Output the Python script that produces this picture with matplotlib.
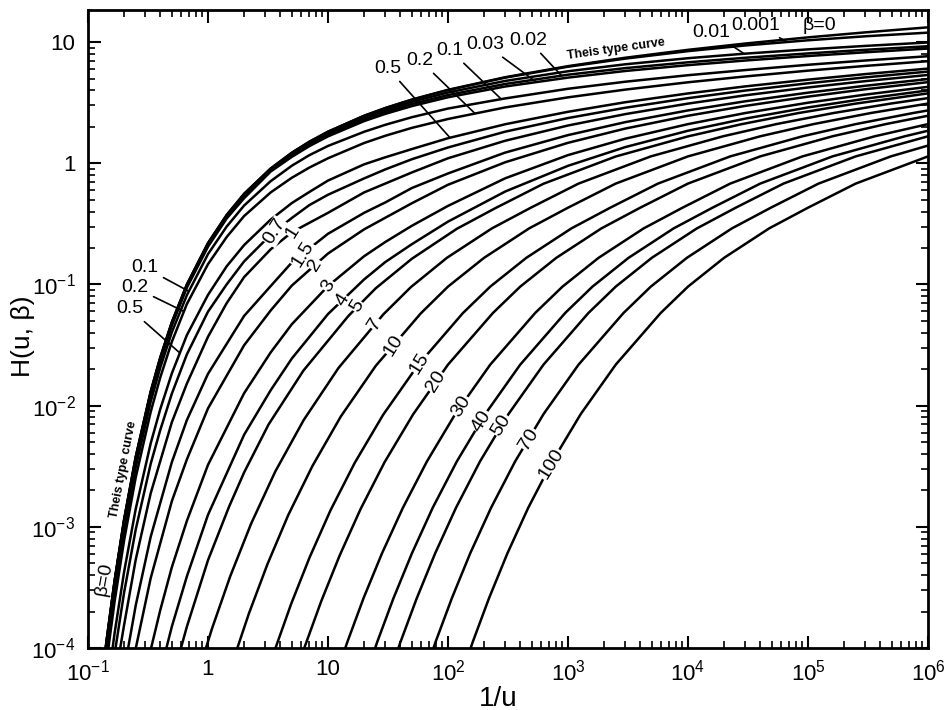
import numpy as np
import matplotlib
matplotlib.use('Agg')
import matplotlib.pyplot as plt

plt.rcParams['font.family'] = ['Liberation Sans', 'DejaVu Sans']

# values of 1/u shared by the small beta curves
x_small = [0.1333, 0.1429, 0.1667, 0.2, 0.25, 0.333, 0.4, 0.5, 0.667, 1, 1.43, 2, 3.33, 5, 7, 10, 20, 30,
           50, 100, 300, 1e3, 3e3, 1e4, 3e4, 1e5, 3e5, 1e6]

# H(u, beta)
h_b0 = [6.6e-5, 1.155e-4, 3.60e-4, 1.148e-3, 3.78e-3, 0.01305, 0.02491, 0.0489, 0.100, 0.2194, 0.374, 0.560,
        0.906, 1.223, 1.507, 1.823, 2.468, 2.857, 3.355, 4.038, 5.131, 6.332, 7.429, 8.633, 9.732, 10.94,
        12.03, 13.24]
h_b0001 = [6.6e-5, 1.153e-4, 3.59e-4, 1.146e-3, 3.77e-3, 0.01303, 0.02486, 0.0488, 0.0998, 0.2190, 0.373,
           0.559, 0.904, 1.221, 1.504, 1.820, 2.463, 2.851, 3.346, 4.016, 5.092, 6.263, 7.309, 8.423, 9.382,
           10.35, 11.17, 11.97]
h_b001 = [6.5e-5, 1.13e-4, 3.53e-4, 1.125e-3, 3.70e-3, 0.0128, 0.02441, 0.0480, 0.0982, 0.2155, 0.366, 0.551,
          0.889, 1.205, 1.478, 1.769, 2.384, 2.749, 3.214, 3.838, 4.781, 5.747, 6.559, 7.363, 8.03, 8.71,
          9.30, 9.93]
h_b002 = [6.3e-5, 1.11e-4, 3.46e-4, 1.103e-3, 3.63e-3, 0.01255, 0.02394, 0.0471, 0.0963, 0.211, 0.358, 0.537,
          0.872, 1.17, 1.44, 1.717, 2.303, 2.65, 3.085, 3.658, 4.514, 5.382, 6.099, 6.813, 7.427, 8.066,
          8.635, 9.248]
h_b003 = [6.2e-5, 1.088e-4, 3.39e-4, 1.081e-3, 3.56e-3, 0.0123, 0.02347, 0.0461, 0.0943, 0.205, 0.350, 0.515,
          0.855, 1.13, 1.386, 1.667, 2.229, 2.557, 2.964, 3.506, 4.303, 5.092, 5.777, 6.453, 7.047, 7.675,
          8.24, 8.848]
h_b01 = [5.4e-5, 9.47e-5, 2.95e-4, 9.41e-4, 3.10e-3, 0.01077, 0.02055, 0.0404, 0.0816, 0.178, 0.300, 0.448,
         0.712, 0.955, 1.167, 1.39, 1.82, 2.077, 2.40, 2.83, 3.43, 4.12, 4.71, 5.33, 5.88, 6.50, 7.05, 7.65]
h_b02 = [4.4e-5, 7.76e-5, 2.42e-4, 7.75e-4, 2.56e-3, 8.87e-3, 0.01706, 0.0337, 0.069, 0.147, 0.246, 0.367,
         0.575, 0.76, 0.922, 1.10, 1.47, 1.686, 1.96, 2.32, 2.89, 3.50, 4.055, 4.66, 5.207, 5.813, 6.36, 6.958]
h_b05 = [2.4e-5, 4.25e-5, 1.33e-4, 4.25e-4, 1.406e-3, 4.88e-3, 9.34e-3, 0.01848, 0.0382, 0.082, 0.141, 0.2114,
         0.343, 0.47, 0.58, 0.72, 0.98, 1.12, 1.31, 1.61, 2.10, 2.66, 3.19, 3.77, 4.31, 4.90, 5.445, 6.045]
h_b07 = [1.6e-5, 2.85e-5, 8.93e-5, 2.87e-4, 9.52e-4, 3.31e-3, 6.28e-3, 0.01257, 0.0265, 0.0596, 0.100, 0.155,
         0.257, 0.354, 0.452, 0.55, 0.75, 0.89, 1.08, 1.35, 1.824, 2.362, 2.872, 3.447, 3.982, 4.572, 5.114,
         5.711]

x_b1 = [0.1667, 0.182, 0.2, 0.25, 0.333, 0.5, 0.667, 1, 1.43, 2, 3.33, 5, 10, 20, 50, 100, 300, 1e3, 3e3,
        1e4, 3e4, 1e5, 3e5, 1e6]
h_b1 = [4.97e-5, 8.9e-5, 1.55e-4, 5.37e-4, 1.89e-3, 7.3e-3, 0.0152, 0.037, 0.070, 0.115, 0.195, 0.27, 0.39,
        0.575, 0.84, 1.10, 1.535, 2.05, 2.545, 3.108, 3.637, 4.223, 4.762, 5.358]

x_b15 = [0.182, 0.2, 0.25, 0.333, 0.5, 0.667, 1, 2, 3.33, 5, 10, 20, 30, 50, 100, 300, 1e3, 3e3, 1e4, 3e4,
         1e5, 3e5, 1e6]
h_b15 = [3.6e-5, 6.5e-5, 2.25e-4, 8.27e-4, 3.42e-3, 7.6e-3, 0.0183, 0.055, 0.097, 0.152, 0.262, 0.39, 0.475,
         0.625, 0.824, 1.226, 1.708, 2.185, 2.731, 3.248, 3.826, 4.362, 4.955]

x_b2 = [0.222, 0.25, 0.333, 0.5, 0.667, 1, 2, 3.33, 5, 10, 20, 30, 50, 100, 300, 1e3, 3e3, 1e4, 3e4, 1e5,
        3e5, 1e6]
h_b2 = [5.4e-5, 9.92e-5, 3.77e-4, 1.63e-3, 3.6e-3, 9.49e-3, 0.0315, 0.061, 0.098, 0.18, 0.285, 0.355, 0.468,
        0.665, 1.02, 1.475, 1.934, 2.467, 2.975, 3.548, 4.082, 4.673]

x_b3 = [0.2857, 0.333, 0.4, 0.5, 0.667, 1, 2, 3.33, 5, 10, 20, 30, 50, 100, 300, 1e3, 3e3, 1e4, 3e4, 1e5,
        3e5, 1e6]
h_b3 = [4.69e-5, 9.66e-5, 2.05e-4, 4.65e-4, 1.12e-3, 3.245e-3, 0.01266, 0.0275, 0.047, 0.097, 0.171, 0.224,
        0.305, 0.445, 0.752, 1.168, 1.595, 2.105, 2.598, 3.161, 3.687, 4.274]

x_b4 = [0.333, 0.4, 0.5, 0.667, 1, 2, 3.33, 5, 10, 20, 30, 50, 100, 300, 1e3, 3e3, 1e4, 3e4, 1e5, 3e5, 1e6]
h_b4 = [2.76e-5, 6.3e-5, 1.504e-4, 3.9e-4, 1.256e-3, 5.75e-3, 0.0134, 0.0245, 0.057, 0.11, 0.153, 0.215,
        0.33, 0.585, 0.953, 1.36, 1.856, 2.337, 2.89, 3.411, 3.992]

x_b5 = [0.5, 0.667, 1, 1.5, 2, 3.2, 6.25, 14.8, 25, 50, 118.5, 250, 625, 2500, 1e4, 2.78e4, 8.33e4, 2.5e5, 1e6]
h_b5 = [5.36e-5, 1.5e-4, 5.3e-4, 1.47e-3, 2.81e-3, 7.0e-3, 0.0195, 0.055, 0.093, 0.163, 0.288, 0.428, 0.678,
        1.138, 1.667, 2.10, 2.598, 3.109, 3.775]

x_b7 = [0.589, 0.784, 1.076, 1.531, 2.286, 3.63, 6.27, 12.25, 29, 49, 98, 232, 490, 1225, 4900, 1.96e4,
        5.44e4, 1.63e5, 4.9e5, 1e6]
h_b7 = [1.8e-5, 5.2e-5, 1.43e-4, 3.9e-4, 1.06e-3, 2.85e-3, 7.6e-3, 0.0205, 0.0568, 0.095, 0.166, 0.29, 0.43,
        0.68, 1.14, 1.67, 2.105, 2.598, 3.111, 3.45]

x_b10 = [1.202, 1.6, 2.195, 3.125, 4.665, 7.41, 12.8, 25, 59.3, 100, 200, 474, 1000, 2500, 1e4, 4e4, 1.11e5,
         3.33e5, 1e6]
h_b10 = [2.9e-5, 7.6e-5, 1.93e-4, 4.9e-4, 1.25e-3, 3.17e-3, 8.15e-3, 0.0213, 0.0577, 0.096, 0.166, 0.29,
         0.43, 0.68, 1.14, 1.67, 2.105, 2.598, 3.111]

x_b15b = [2.70, 3.6, 4.94, 7.03, 10.5, 16.7, 28.8, 56.25, 133, 225, 450, 1067, 2250, 5625, 2.25e4, 9e4,
          2.5e5, 7.5e5, 1e6]
h_b15b = [3.92e-5, 9.6e-5, 2.32e-4, 5.6e-4, 1.37e-3, 3.37e-3, 8.4e-3, 0.0216, 0.058, 0.096, 0.166, 0.29,
          0.43, 0.68, 1.14, 1.67, 2.105, 2.598, 2.73]

x_b20 = [4.81, 6.4, 8.78, 12.5, 18.66, 29.6, 51.2, 100, 237, 400, 800, 1896, 4000, 1e4, 4e4, 1.6e5, 4.44e5, 1e6]
h_b20 = [4.25e-5, 1.024e-4, 2.43e-4, 5.79e-4, 1.398e-3, 3.41e-3, 8.47e-3, 0.0218, 0.0582, 0.096, 0.166, 0.29,
         0.43, 0.68, 1.14, 1.67, 2.105, 2.467]

x_b30 = [10.8, 14.4, 19.76, 28.1, 42, 66.7, 115.2, 225, 533, 900, 1800, 4266, 9000, 2.25e4, 9e4, 3.6e5, 1e6]
h_b30 = [4.7e-5, 1.1e-4, 2.57e-4, 6.0e-4, 1.43e-3, 3.46e-3, 8.55e-3, 0.0218, 0.0582, 0.096, 0.166, 0.29,
         0.43, 0.68, 1.14, 1.67, 2.105]

x_b40 = [19.2, 25.6, 35.1, 50, 74.6, 118.6, 204.8, 400, 948, 1600, 3200, 7584, 1.6e4, 4e4, 1.6e5, 6.4e5, 1e6]
h_b40 = [4.72e-5, 1.107e-4, 2.57e-4, 6.03e-4, 1.437e-3, 3.47e-3, 8.55e-3, 0.0218, 0.0582, 0.096, 0.166, 0.29,
         0.43, 0.68, 1.14, 1.67, 1.856]

x_b50 = [30, 40, 54.9, 78.1, 116.6, 185, 320, 625, 1481, 2500, 5000, 1.185e4, 2.5e4, 6.25e4, 2.5e5, 1e6]
h_b50 = [4.72e-5, 1.107e-4, 2.57e-4, 6.03e-4, 1.437e-3, 3.47e-3, 8.55e-3, 0.0218, 0.0582, 0.096, 0.166, 0.29,
         0.43, 0.68, 1.14, 1.67]

x_b70 = [58.9, 78.4, 107.6, 153, 228.6, 363, 627, 1225, 2904, 4900, 9800, 2.32e4, 4.9e4, 1.225e5, 4.9e5, 1e6]
h_b70 = [4.72e-5, 1.107e-4, 2.57e-4, 6.03e-4, 1.437e-3, 3.47e-3, 8.55e-3, 0.0218, 0.0582, 0.096, 0.166, 0.29,
         0.43, 0.68, 1.14, 1.40]

x_b100 = [120, 160, 219.5, 312.5, 466.5, 741, 1280, 2500, 5926, 1e4, 2e4, 4.74e4, 1e5, 2.5e5, 1e6]
h_b100 = [4.72e-5, 1.107e-4, 2.57e-4, 6.03e-4, 1.437e-3, 3.47e-3, 8.55e-3, 0.0218, 0.0582, 0.096, 0.166,
          0.29, 0.43, 0.68, 1.14]

curves = {
    '0': (x_small, h_b0), '0.001': (x_small, h_b0001), '0.01': (x_small, h_b001),
    '0.02': (x_small, h_b002), '0.03': (x_small, h_b003), '0.1': (x_small, h_b01),
    '0.2': (x_small, h_b02), '0.5': (x_small, h_b05), '0.7': (x_small, h_b07),
    '1': (x_b1, h_b1), '1.5': (x_b15, h_b15), '2': (x_b2, h_b2), '3': (x_b3, h_b3),
    '4': (x_b4, h_b4), '5': (x_b5, h_b5), '7': (x_b7, h_b7), '10': (x_b10, h_b10),
    '15': (x_b15b, h_b15b), '20': (x_b20, h_b20), '30': (x_b30, h_b30), '40': (x_b40, h_b40),
    '50': (x_b50, h_b50), '70': (x_b70, h_b70), '100': (x_b100, h_b100),
}

# where the beta labels sit along the middle of the chart (1/u)
mid_labels = ['0.7', '1', '1.5', '2', '3', '4', '5', '7', '10', '15', '20', '30', '40', '50', '70', '100']
mid_label_x = [3.6, 5.1, 6.12, 7.85, 10.1, 13.2, 17.7, 24.9, 35.3, 58.3, 79.4, 128, 189, 280, 470, 720]


def on_curve(key, x):
    xs, hs = curves[key]
    return 10 ** np.interp(np.log10(x), np.log10(xs), np.log10(hs))


fig = plt.figure(figsize=(9.45, 7.10), dpi=100)
ax = fig.add_axes([0.0931, 0.0873, 0.8889, 0.8986])

for key, (xs, hs) in curves.items():
    ax.plot(xs, hs, color='black', lw=1.8, solid_joinstyle='round')

ax.set_xscale('log')
ax.set_yscale('log')
ax.set_xlim(0.1, 1e6)
ax.set_ylim(1e-4, 18.4)

ax.set_xticks([1e-1, 1, 10, 1e2, 1e3, 1e4, 1e5, 1e6])
ax.set_xticklabels([r'$\mathregular{10^{-1}}$', '1', '10', r'$\mathregular{10^{2}}$',
                    r'$\mathregular{10^{3}}$', r'$\mathregular{10^{4}}$', r'$\mathregular{10^{5}}$',
                    r'$\mathregular{10^{6}}$'])
ax.set_yticks([1e-4, 1e-3, 1e-2, 1e-1, 1, 10])
ax.set_yticklabels([r'$\mathregular{10^{-4}}$', r'$\mathregular{10^{-3}}$', r'$\mathregular{10^{-2}}$',
                    r'$\mathregular{10^{-1}}$', '1', '10'])
ax.tick_params(which='both', direction='in', top=True, right=True, labelsize=16)
ax.tick_params(which='major', length=9, width=1.5)
ax.tick_params(which='minor', length=5, width=1.2)
ax.tick_params(axis='x', pad=8)
ax.tick_params(axis='y', pad=9)
for s in ax.spines.values():
    s.set_linewidth(2)

fig.text(0.024, 0.527, 'H(u, β)', rotation=90, fontsize=19, ha='center', va='center')
fig.text(0.527, 0.016, '1/u', fontsize=20, ha='center', va='center')

# labels sitting on the curves
for lab, xl in zip(mid_labels, mid_label_x):
    ax.text(xl, on_curve(lab, xl), lab, rotation=58, fontsize=14, ha='center', va='center',
            zorder=5, bbox=dict(facecolor='white', edgecolor='none', pad=0.4))

# labels with leaders at the top
top = [('0.5', 31.5, 6.1, 104), ('0.2', 58.3, 7.1, 168), ('0.1', 104, 8.6, 278),
       ('0.03', 204, 9.6, 545), ('0.02', 467, 10.4, 883), ('0.01', 1.56e4, 12.1, 2.94e4),
       ('0.001', 3.7e4, 13.8, 6.73e4)]
for lab, tx, ty, xe in top:
    ax.annotate(lab, xy=(xe, on_curve(lab, xe)), xytext=(tx, ty), fontsize=14, ha='center', va='center',
                arrowprops=dict(arrowstyle='-', lw=1.2, shrinkA=2, shrinkB=0))
ax.text(1.25e5, 13.8, 'β=0', fontsize=14, ha='center', va='center')
ax.text(2500, 8.7, 'Theis type curve', rotation=8, fontsize=9, fontweight='bold', ha='center', va='center')

# labels with leaders at the left
left = [('0.1', 0.297, 0.138, 0.693), ('0.2', 0.245, 0.0944, 0.630), ('0.5', 0.222, 0.0633, 0.583)]
for lab, tx, ty, xe in left:
    ax.annotate(lab, xy=(xe, on_curve(lab, xe)), xytext=(tx, ty), fontsize=14, ha='center', va='center',
                arrowprops=dict(arrowstyle='-', lw=1.2, shrinkA=2, shrinkB=0))
ax.text(0.198, 3.0e-3, 'Theis type curve', rotation=79, fontsize=9, fontweight='bold', ha='center',
        va='center')
ax.text(0.137, 3.7e-4, 'β=0', rotation=80, fontsize=14, ha='center', va='center')

fig.savefig('out.png', dpi=100)
